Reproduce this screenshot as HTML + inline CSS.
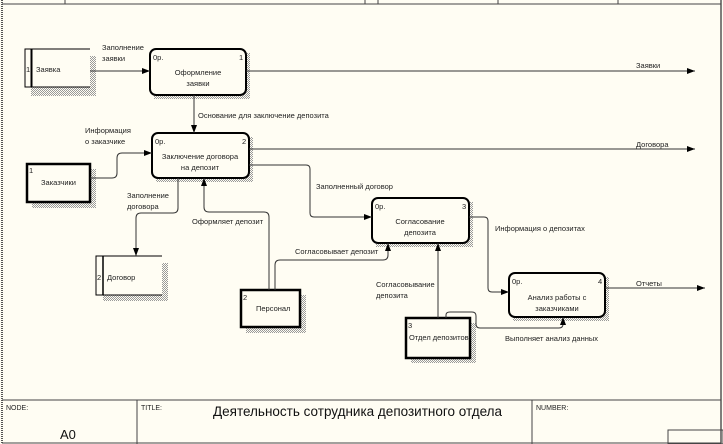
<!DOCTYPE html>
<html><head><meta charset="utf-8"><style>
html,body{margin:0;padding:0;background:#fffdf3;}
svg{display:block;font-family:"Liberation Sans","DejaVu Sans",sans-serif;}
</style></head><body>
<svg width="723" height="444" viewBox="0 0 723 444" xmlns="http://www.w3.org/2000/svg">
<defs>
<pattern id="sh" width="2" height="2" patternUnits="userSpaceOnUse"><rect width="1" height="1" fill="#999"/><rect x="1" y="1" width="1" height="1" fill="#999"/></pattern>
<marker id="a" markerWidth="8" markerHeight="6" refX="8" refY="3" orient="auto" markerUnits="userSpaceOnUse"><path d="M0,0 L8,3 L0,6z" fill="#000"/></marker>
</defs>
<rect width="723" height="444" fill="#fffdf3"/>
<line x1="2" y1="0" x2="2" y2="444" stroke="#555" stroke-dasharray="1,1" stroke-width="2"/>
<line x1="721" y1="0" x2="721" y2="444" stroke="#555" stroke-width="1.5"/>
<line x1="2" y1="4" x2="721" y2="4" stroke="#444"/>
<g stroke="#444"><line x1="65" y1="0" x2="65" y2="4"/><line x1="365" y1="0" x2="365" y2="4"/><line x1="378" y1="0" x2="378" y2="4"/><line x1="498" y1="0" x2="498" y2="4"/><line x1="618" y1="0" x2="618" y2="4"/></g>
<line x1="2" y1="400" x2="721" y2="400" stroke="#444"/>
<line x1="2" y1="443" x2="721" y2="443" stroke="#444"/>
<g stroke="#444"><line x1="137" y1="400" x2="137" y2="444"/><line x1="532" y1="400" x2="532" y2="444"/><rect x="668" y="430" width="55" height="14" fill="none"/></g>
<g font-size="7" fill="#222"><text x="6" y="410">NODE:</text><text x="141" y="410">TITLE:</text><text x="536" y="410">NUMBER:</text></g>
<text x="60" y="439" font-size="13" fill="#111">A0</text>
<text x="213" y="416" font-size="13.5" fill="#111">Деятельность сотрудника депозитного отдела</text>

<g font-size="7.5" fill="#222">
<g fill="url(#sh)">
<rect x="154" y="53" width="96" height="46"/><rect x="156" y="137" width="97" height="45"/>
<rect x="376" y="202" width="97" height="45"/><rect x="513" y="277" width="96" height="44"/>
<rect x="31" y="56" width="65" height="40"/><rect x="32" y="169" width="64" height="39"/>
<rect x="103" y="263" width="65" height="38"/><rect x="246" y="295" width="60" height="38"/>
<rect x="411" y="323" width="65" height="40"/>
</g>
<g fill="#fffdf3" stroke="#000" stroke-width="2">
<rect x="150" y="49" width="96" height="46" rx="6"/>
<rect x="152" y="133" width="97" height="45" rx="6"/>
<rect x="372" y="198" width="97" height="45" rx="6"/>
<rect x="509" y="273" width="96" height="44" rx="6"/>
</g>
<text x="153" y="60">0р.</text><text x="239" y="60">1</text>
<text x="198" y="75" text-anchor="middle">Оформление</text><text x="198" y="86" text-anchor="middle">заявки</text>
<text x="155" y="144">0р.</text><text x="242" y="144">2</text>
<text x="200" y="159" text-anchor="middle">Заключение договора</text><text x="200" y="170" text-anchor="middle">на депозит</text>
<text x="375" y="209">0р.</text><text x="462" y="209">3</text>
<text x="420" y="224" text-anchor="middle">Согласование</text><text x="420" y="235" text-anchor="middle">депозита</text>
<text x="512" y="284">0р.</text><text x="598" y="284">4</text>
<text x="557" y="300" text-anchor="middle">Анализ работы с</text><text x="557" y="311" text-anchor="middle">заказчиками</text>

<g fill="#fffdf3" stroke="#000">
<rect x="25" y="49" width="65" height="38" stroke="none"/>
<path d="M90,49 H25 V87 H90" fill="none"/><line x1="31.5" y1="49" x2="31.5" y2="87" stroke-width="2"/>
<rect x="96" y="256" width="66" height="39" stroke="none"/>
<path d="M162,256 H96 V295 H162" fill="none"/><line x1="103" y1="256" x2="103" y2="295" stroke-width="1.5"/>
<rect x="27" y="164" width="63" height="38" stroke-width="2.5"/>
<rect x="241" y="290" width="59" height="37" stroke-width="2.5"/>
<rect x="406" y="318" width="64" height="40" stroke-width="2.5"/>
</g>
<text x="26" y="72">1</text><text x="36" y="72">Заявка</text>
<text x="29" y="173">1</text><text x="41" y="185">Заказчики</text>
<text x="97" y="280">2</text><text x="107" y="280">Договор</text>
<text x="243" y="300">2</text><text x="256" y="311">Персонал</text>
<text x="408" y="328">3</text><text x="409" y="340">Отдел депозитов</text>

<g fill="none" stroke="#333" stroke-width="1" marker-end="url(#a)">
<path d="M90,71 H150"/>
<path d="M246,71 H695"/>
<path d="M194,95 V133"/>
<path d="M90,178 H112 Q117,178 117,173 V158 Q117,153 122,153 H152"/>
<path d="M249,149 H695"/>
<path d="M249,165 H306 Q310,165 310,169 V213 Q310,217 314,217 H372"/>
<path d="M178,178 V208 Q178,213 173,213 H141 Q136,213 136,218 V256"/>
<path d="M269,290 V217 Q269,212 264,212 H209 Q204,212 204,207 V178"/>
<path d="M275,290 V265 Q275,260 280,260 H383 Q388,260 388,255 V243"/>
<path d="M438,318 V243"/>
<path d="M469,217 H484 Q488,217 488,221 V288 Q488,292 492,292 H509"/>
<path d="M446,318 V315 Q446,312 450,312 H472 Q476,312 476,316 V324 Q476,328 480,328 H559 Q563,328 563,324 V317"/>
<path d="M605,288 H705"/>
</g>
<text x="102" y="50">Заполнение</text><text x="102" y="61">заявки</text>
<text x="636" y="68">Заявки</text>
<text x="198" y="118">Основание для заключение депозита</text>
<text x="85" y="133">Информация</text><text x="85" y="144">о заказчике</text>
<text x="636" y="147">Договора</text>
<text x="316" y="189">Заполненный договор</text>
<text x="127" y="198">Заполнение</text><text x="127" y="209">договора</text>
<text x="192" y="224">Оформляет депозит</text>
<text x="295" y="254">Согласовывает депозит</text>
<text x="376" y="287">Согласовывание</text><text x="376" y="298">депозита</text>
<text x="495" y="231">Информация о депозитах</text>
<text x="505" y="341">Выполняет анализ данных</text>
<text x="636" y="286">Отчеты</text>
</g>
</svg>
</body></html>
